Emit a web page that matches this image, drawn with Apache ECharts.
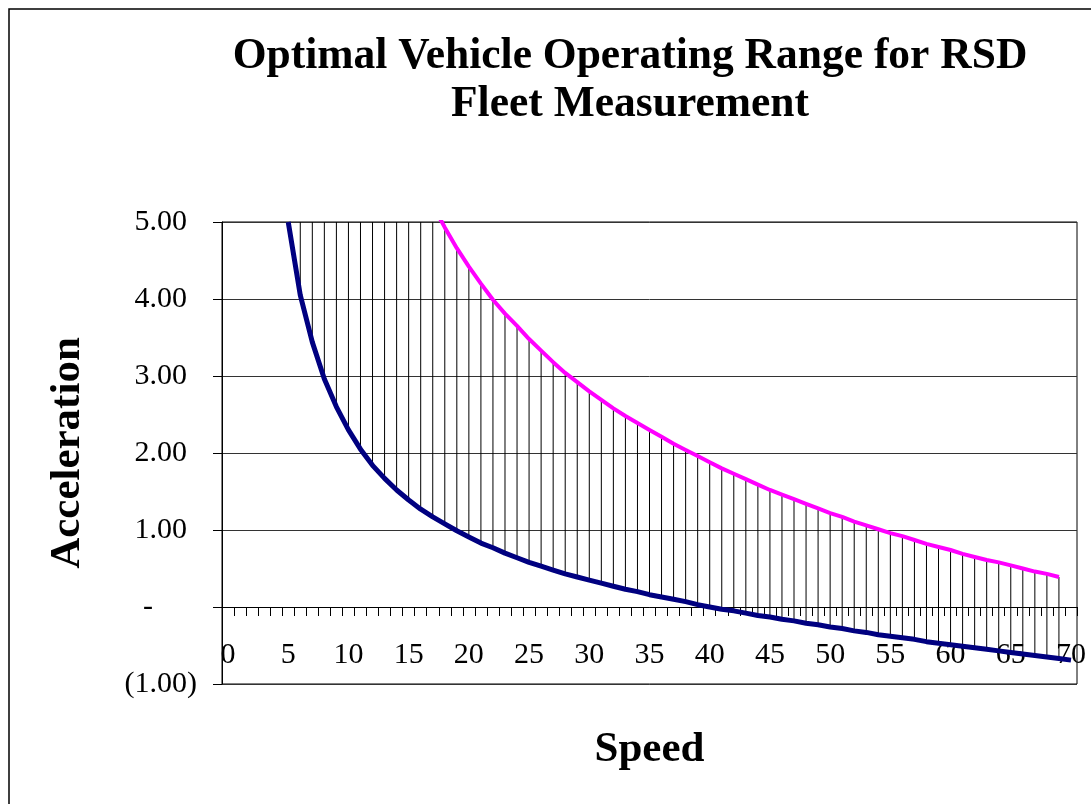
<!DOCTYPE html>
<html>
<head>
<meta charset="utf-8">
<title>Optimal Vehicle Operating Range for RSD Fleet Measurement</title>
<script src="https://cdn.jsdelivr.net/npm/echarts@6/dist/echarts.min.js"></script>
<style>
  html, body { margin: 0; padding: 0; background: #fff; }
  #chart { width: 1091px; height: 804px; }
</style>
</head>
<body>
<div id="chart"></div>
<script>
const FONT = '"Liberation Serif", "Times New Roman", serif'

// speed categories 0..70
const speeds = [
  0, 1, 2, 3, 4, 5, 6, 7, 8, 9, 10, 11, 12, 13, 14, 15, 16, 17, 18, 19, 20,
  21, 22, 23, 24, 25, 26, 27, 28, 29, 30, 31, 32, 33, 34, 35, 36, 37, 38, 39, 40,
  41, 42, 43, 44, 45, 46, 47, 48, 49, 50, 51, 52, 53, 54, 55, 56, 57, 58, 59, 60,
  61, 62, 63, 64, 65, 66, 67, 68, 69, 70
]

// lower bound (navy line)
const lowerAccel = [
  null, null, null, null, null,
  5.00, 4.05, 3.44, 2.96, 2.60, 2.30, 2.05, 1.84, 1.67, 1.52, 1.39, 1.27, 1.17, 1.08, 0.99, 0.91,
  0.83, 0.77, 0.70, 0.64, 0.58, 0.53, 0.48, 0.43, 0.39, 0.35, 0.31, 0.27, 0.23, 0.20, 0.16,
  0.13, 0.10, 0.07, 0.03, 0.00, -0.03, -0.05, -0.08, -0.11, -0.13,
  -0.16, -0.18, -0.21, -0.23, -0.26, -0.28, -0.31, -0.33, -0.36, -0.38,
  -0.40, -0.42, -0.45, -0.47, -0.49, -0.51, -0.53, -0.55, -0.57, -0.59,
  -0.61, -0.63, -0.65, -0.67, -0.69
]

// upper bound (magenta line), above 5 it runs off the top of the plot
const upperAccel = [
  null, null, null, null, null,
  17.0, 14.5, 12.5, 11.0, 9.8, 8.8, 8.0, 7.3, 6.8, 6.3, 5.9, 5.55, 5.22, 4.93, 4.66, 4.42,
  4.20, 3.99, 3.81, 3.65, 3.48, 3.33, 3.18, 3.04, 2.92, 2.80, 2.69, 2.58, 2.48, 2.39, 2.30,
  2.21, 2.12, 2.04, 1.96, 1.88, 1.80, 1.73, 1.66, 1.59, 1.52,
  1.46, 1.40, 1.34, 1.28, 1.22, 1.17, 1.11, 1.06, 1.01, 0.96,
  0.92, 0.87, 0.82, 0.78, 0.74, 0.69, 0.65, 0.61, 0.58, 0.54,
  0.50, 0.46, 0.43, 0.39, null
]

const yTicks = [-1, 0, 1, 2, 3, 4, 5]

// high-low lines between the two curves
const hiLo = []
speeds.forEach((s, i) => {
  if (i >= 6 && lowerAccel[i] != null && upperAccel[i] != null) {
    hiLo.push([i, lowerAccel[i], upperAccel[i]])
  }
})

const fmtY = (v) => {
  if (v === 0) return '{z|-}'
  if (v < 0) return '{m|(' + Math.abs(v).toFixed(2) + ')}'
  return '{n|' + v.toFixed(2) + '}'
}

const labelFont = { fontFamily: FONT, fontSize: 30, color: '#000' }
const nameFont = { fontFamily: FONT, fontSize: 43, fontWeight: 'bold', color: '#000' }

const chart = echarts.init(document.getElementById('chart'))

chart.setOption({
  animation: false,
  backgroundColor: '#fff',
  grid: {
    left: 222, right: 14, top: 222, bottom: 120,
    outerBoundsMode: 'none',
    containLabel: false,
    show: true, borderColor: '#000', borderWidth: 1
  },
  graphic: [
    {
      type: 'rect',
      silent: true,
      z: -10,
      shape: { x: 9, y: 9, width: 1200, height: 1000 },
      style: { fill: 'none', stroke: '#000', lineWidth: 1.5 }
    },
    {
      type: 'text',
      x: 630,
      y: 81,
      style: {
        text: 'Optimal Vehicle Operating Range for RSD\nFleet Measurement',
        fontFamily: FONT,
        fontSize: 43.5,
        fontWeight: 'bold',
        lineHeight: 48,
        fill: '#000',
        align: 'center',
        verticalAlign: 'middle'
      }
    }
  ],
  xAxis: [
    {
      // axis line + ticks crossing at zero
      type: 'category',
      data: speeds,
      boundaryGap: true,
      axisLine: { show: true, onZero: true, lineStyle: { color: '#000', width: 1 } },
      axisTick: { show: true, interval: 0, length: 9, lineStyle: { color: '#000' } },
      axisLabel: { show: false },
      splitLine: { show: false }
    },
    {
      // labels + name, sitting inside the bottom of the plot
      type: 'category',
      data: speeds,
      boundaryGap: true,
      position: 'bottom',
      name: 'Speed',
      nameLocation: 'middle',
      nameGap: 44,
      nameMoveOverlap: false,
      nameTextStyle: nameFont,
      axisLine: { show: false, onZero: false },
      axisTick: { show: false },
      axisLabel: Object.assign({ interval: 4, inside: true, margin: 14 }, labelFont),
      splitLine: { show: false }
    }
  ],
  yAxis: {
    type: 'value',
    min: yTicks[0],
    max: yTicks[yTicks.length - 1],
    interval: 1,
    name: 'Acceleration',
    nameLocation: 'middle',
    nameGap: 133,
    nameRotate: 90,
    nameMoveOverlap: false,
    nameTextStyle: nameFont,
    axisLine: { show: true, onZero: false, lineStyle: { color: '#000', width: 1 } },
    axisTick: { show: true, length: 9, lineStyle: { color: '#000' } },
    axisLabel: Object.assign({
      margin: 25,
      formatter: fmtY,
      rich: {
        n: Object.assign({ padding: [0, 10, 0, 0] }, labelFont),
        m: Object.assign({}, labelFont),
        z: Object.assign({ padding: [0, 44, 0, 0] }, labelFont)
      }
    }, labelFont),
    splitLine: { show: true, lineStyle: { color: '#333', width: 1 } }
  },
  series: [
    {
      name: 'Range',
      type: 'custom',
      z: 1,
      data: hiLo,
      encode: { x: 0, y: [1, 2] },
      renderItem: (params, api) => {
        const cs = params.coordSys
        const a = api.coord([api.value(0), api.value(1)])
        const b = api.coord([api.value(0), api.value(2)])
        const top = cs.y
        const bottom = cs.y + cs.height
        const y1 = Math.min(Math.max(a[1], top), bottom)
        const y2 = Math.min(Math.max(b[1], top), bottom)
        return {
          type: 'line',
          shape: { x1: a[0], y1: y1, x2: a[0], y2: y2 },
          style: { stroke: '#000', lineWidth: 1 }
        }
      }
    },
    {
      name: 'Lower',
      type: 'line',
      z: 3,
      data: lowerAccel,
      showSymbol: false,
      clip: true,
      lineStyle: { color: '#000080', width: 5 }
    },
    {
      name: 'Upper',
      type: 'line',
      z: 3,
      data: upperAccel,
      showSymbol: false,
      clip: true,
      lineStyle: { color: '#ff00ff', width: 4 }
    }
  ]
})
</script>
</body>
</html>
